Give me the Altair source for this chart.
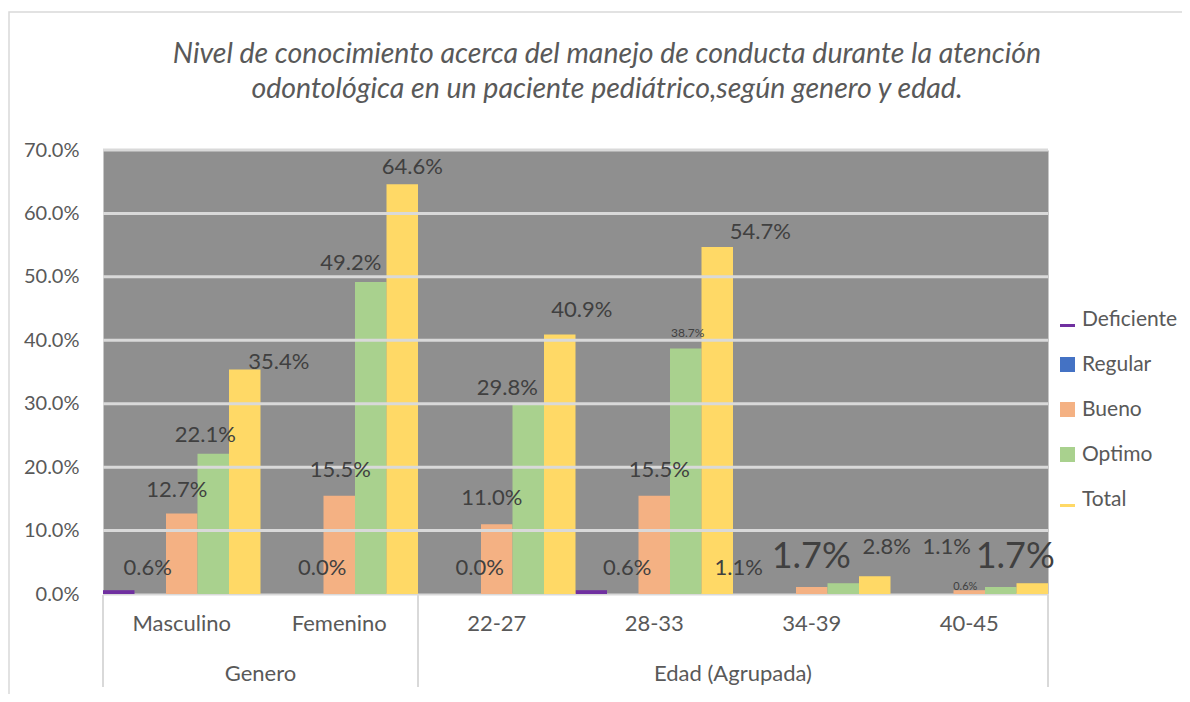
import altair as alt
import pandas as pd

# ---------------- data ----------------
CATEGORIES = ["Masculino", "Femenino", "22-27", "28-33", "34-39", "40-45"]
GROUP_OF = ["Genero", "Genero", "Edad (Agrupada)", "Edad (Agrupada)",
            "Edad (Agrupada)", "Edad (Agrupada)"]
SERIES = ["Deficiente", "Regular", "Bueno", "Optimo", "Total"]

DEFICIENTE = [0.6, 0.0, 0.0, 0.6, 0.0, 0.0]
REGULAR = [0.0, 0.0, 0.0, 0.0, 0.0, 0.0]
BUENO = [12.7, 15.5, 11.0, 15.5, 1.1, 0.6]
OPTIMO = [22.1, 49.2, 29.8, 38.7, 1.7, 1.1]
TOTAL = [35.4, 64.6, 40.9, 54.7, 2.8, 1.7]

Y_TICKS = [0, 10, 20, 30, 40, 50, 60, 70]
GRID = [10, 20, 30, 40, 50, 60, 70]

TITLE = ["Nivel de conocimiento acerca del manejo de conducta durante la atención",
         "odontológica en un paciente pediátrico,según genero y edad."]

# ---------------- styles ----------------
COLORS = ["#7030a0", "#4472c4", "#f4b183", "#a9d18e", "#ffd966"]
LINE_SYM = "M-1,0.6L1,0.6L1,1L-1,1Z"
SHAPES = [LINE_SYM, "square", "square", "square", LINE_SYM]
FONT = "Lato"
TXT = "#595959"
LBL = "#404040"
W, H = 945, 444

# label nudges (dx, dy, fontSize) relative to each bar's top centre
LABEL_STYLE = {
    ("Masculino", "Deficiente"): (29, -22, 22),
    ("Masculino", "Bueno"): (-5, -23, 22),
    ("Masculino", "Optimo"): (-8, -19, 22),
    ("Masculino", "Total"): (34, -7, 22),
    ("Femenino", "Deficiente"): (46, -26, 22),
    ("Femenino", "Bueno"): (1, -26, 22),
    ("Femenino", "Optimo"): (-20, -19, 22),
    ("Femenino", "Total"): (10, -17, 22),
    ("22-27", "Deficiente"): (46, -26, 22),
    ("22-27", "Bueno"): (-5, -26, 22),
    ("22-27", "Optimo"): (-21, -17, 22),
    ("22-27", "Total"): (22, -25, 22),
    ("28-33", "Deficiente"): (36, -22, 22),
    ("28-33", "Bueno"): (5, -26, 22),
    ("28-33", "Optimo"): (2, -16, 12),
    ("28-33", "Total"): (43, -15, 22),
    ("34-39", "Bueno"): (-73, -19, 22),
    ("34-39", "Optimo"): (-32, -26, 36),
    ("34-39", "Total"): (12, -29, 22),
    ("40-45", "Bueno"): (-4, -3, 11),
    ("40-45", "Optimo"): (-54, -40, 22),
    ("40-45", "Total"): (-17, -26, 36),
}

# ---------------- tables ----------------
values = {"Deficiente": DEFICIENTE, "Regular": REGULAR, "Bueno": BUENO,
          "Optimo": OPTIMO, "Total": TOTAL}
rows = []
for s in SERIES:
    for c, v in zip(CATEGORIES, values[s]):
        rows.append({"cat": c, "series": s, "value": v})
df = pd.DataFrame(rows)

groups = []
for g in dict.fromkeys(GROUP_OF):
    cats = [c for c, gg in zip(CATEGORIES, GROUP_OF) if gg == g]
    groups.append({"group": g, "anchor": cats[len(cats) // 2 - 1],
                   "first": cats[0], "last": cats[-1]})
gdf = pd.DataFrame(groups)

# ---------------- shared scales / axes ----------------
xscale = alt.Scale(domain=CATEGORIES, paddingInner=0, paddingOuter=0)
yscale = alt.Scale(domain=[0, 70], nice=False)
xaxis = alt.Axis(title=None, labelFontSize=22, labelColor=TXT, labelFont=FONT,
                 labelPadding=19, ticks=False, domainColor="#d9d9d9",
                 domainWidth=2, labelAngle=0, grid=False)
yaxis = alt.Axis(title=None, values=Y_TICKS,
                 labelExpr="format(datum.value, '.1f') + '%'",
                 labelFontSize=20, labelColor=TXT, labelFont=FONT,
                 labelPadding=24, ticks=False, domain=False, grid=False)


def X(field, band=None):
    if band is None:
        return alt.X(f"{field}:N", sort=CATEGORIES, scale=xscale, axis=xaxis)
    return alt.X(f"{field}:N", sort=CATEGORIES, scale=xscale, axis=xaxis,
                 bandPosition=band)


def Y(field):
    return alt.Y(f"{field}:Q", scale=yscale, axis=yaxis)


xo = alt.XOffset("series:N", sort=SERIES,
                 scale=alt.Scale(domain=SERIES, paddingInner=0, paddingOuter=0))

legend = alt.Legend(title=None, orient="none", legendX=954, legendY=159,
                    labelFont=FONT, labelFontSize=21, labelColor=TXT,
                    symbolSize=225, symbolStrokeWidth=0, rowPadding=23,
                    labelOffset=4, symbolOpacity=1)
color = alt.Color("series:N", scale=alt.Scale(domain=SERIES, range=COLORS),
                  legend=legend)

base = alt.Chart(df)

bars = base.mark_bar().encode(x=X("cat"), xOffset=xo, y=Y("value"), color=color)

legend_pts = base.mark_point(filled=True, opacity=1).encode(
    x=X("cat"), xOffset=xo, y=Y("value"),
    color=color,
    shape=alt.Shape("series:N", scale=alt.Scale(domain=SERIES, range=SHAPES),
                    legend=legend),
).transform_filter("false")

grid = alt.Chart(pd.DataFrame({"g": GRID})).mark_rule(
    color="#d9d9d9", strokeWidth=3
).encode(y=Y("g"))

label_layers = []
for (c, s), (dx, dy, fs) in LABEL_STYLE.items():
    label_layers.append(
        base.transform_filter(
            f"datum.cat == '{c}' && datum.series == '{s}'"
        ).transform_calculate(
            label="format(datum.value, '.1f') + '%'"
        ).mark_text(dx=dx, dy=dy, fontSize=fs, font=FONT, color=LBL,
                    align="center", baseline="middle").encode(
            x=X("cat"), xOffset=xo, y=Y("value"), text="label:N",
        )
    )

gbase = alt.Chart(gdf)
group_text = gbase.mark_text(font=FONT, fontSize=22, color=TXT,
                             baseline="middle").encode(
    x=X("anchor", 1), y=alt.value(H + 80), text="group:N",
)
sep_start = gbase.mark_rule(color="#d9d9d9", strokeWidth=2).encode(
    x=X("first", 0), y=alt.value(H + 1), y2=alt.value(H + 93),
)
sep_end = gbase.transform_filter(
    f"datum.last == '{CATEGORIES[-1]}'"
).mark_rule(color="#d9d9d9", strokeWidth=2).encode(
    x=X("last", 1), y=alt.value(H + 1), y2=alt.value(H + 93),
)

frame = alt.Chart(pd.DataFrame({"a": [0]})).mark_rect(
    fillOpacity=0, stroke="#d9d9d9", strokeWidth=1.5
).encode(x=alt.value(-94), x2=alt.value(1092), y=alt.value(-138), y2=alt.value(560))

title = alt.Chart(pd.DataFrame({"a": [0]})).mark_text(
    text=TITLE, font=FONT, fontSize=28.5, fontStyle="italic", color=TXT,
    lineHeight=35, align="center", baseline="alphabetic"
).encode(x=alt.value(504), y=alt.value(-87))

chart = alt.layer(
    frame, bars, grid, legend_pts, *label_layers, group_text, sep_start,
    sep_end, title
).properties(
    width=W, height=H,
    autosize=alt.AutoSizeParams(type="none"),
    padding={"left": 95, "top": 142, "right": 134, "bottom": 100},
).configure_view(
    fill="#8f8f8f", strokeOpacity=0
)

chart.save("out.html", embed_options={"renderer": "svg", "actions": False})
